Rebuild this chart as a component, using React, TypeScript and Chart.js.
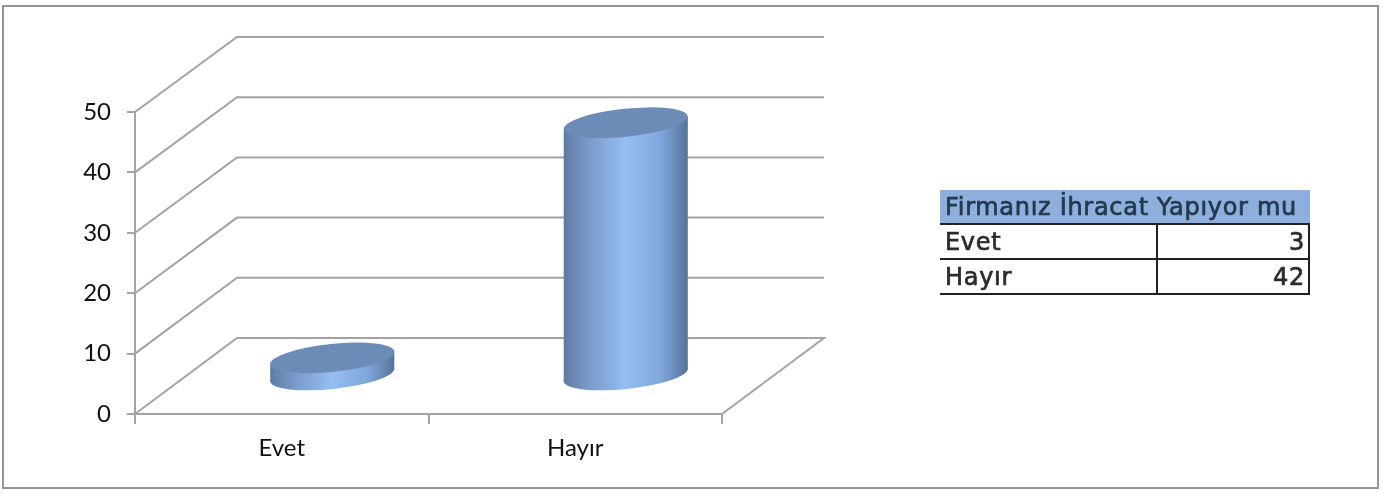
import React, { useEffect, useRef } from "react";
import { Chart, registerables } from "chart.js";

Chart.register(...registerables);

const categories = ["Evet", "Hayır"];
const values = [3, 42];
const tickLabels = [0, 10, 20, 30, 40, 50];
const tableTitle = "Firmanız İhracat Yapıyor mu";

const GRID = "#a3a3a3";
const DEPTH_X = 102;
const DEPTH_Y_FLOOR = 76;
const DEPTH_Y_TOP = 75;

function depthAt(frac: number) {
  return DEPTH_Y_FLOOR + (DEPTH_Y_TOP - DEPTH_Y_FLOOR) * frac;
}

const wall3d = {
  id: "wall3d",
  beforeDatasetsDraw(chart: any) {
    const { ctx, chartArea: a, scales } = chart;
    ctx.save();
    ctx.strokeStyle = GRID;
    ctx.lineWidth = 2;
    const y = scales.y;
    tickLabels.forEach((t) => {
      const py = y.getPixelForValue(t);
      const dy = depthAt(t / 50);
      ctx.beginPath();
      ctx.moveTo(a.left, py);
      ctx.lineTo(a.left + DEPTH_X, py - dy);
      ctx.lineTo(a.right + DEPTH_X, py - dy);
      if (t === 0) ctx.lineTo(a.right, py);
      ctx.stroke();
    });
    ctx.restore();
  },
};

function cylinderTop(ctx: any, cx: number, cy: number, rx: number, ry: number, rot: number) {
  ctx.beginPath();
  ctx.ellipse(cx, cy, rx, ry, rot, 0, Math.PI * 2);
}

const cylinders = {
  id: "cylinders",
  afterDatasetsDraw(chart: any) {
    const { ctx } = chart;
    const meta = chart.getDatasetMeta(0);
    meta.data.forEach((bar: any, i: number) => {
      const rx = bar.width / 2;
      const ry = 14;
      const rot = (-6 * Math.PI) / 180;
      const cx = bar.x + DEPTH_X / 2 - 0.5;
      const topY = bar.y - depthAt(values[i] / 50) / 2;
      const baseY = bar.base - depthAt(0) / 2;
      const t = Math.atan2(-ry * Math.sin(rot), rx * Math.cos(rot));
      const ex = rx * Math.cos(t) * Math.cos(rot) - ry * Math.sin(t) * Math.sin(rot);
      const ey = rx * Math.cos(t) * Math.sin(rot) + ry * Math.sin(t) * Math.cos(rot);
      const g = ctx.createLinearGradient(cx - ex, 0, cx + ex, 0);
      g.addColorStop(0, "#5f7ba3");
      g.addColorStop(0.2, "#7a9aca");
      g.addColorStop(0.5, "#95bef2");
      g.addColorStop(0.78, "#80a8dd");
      g.addColorStop(1, "#567399");
      ctx.save();
      ctx.fillStyle = g;
      cylinderTop(ctx, cx, baseY, rx, ry, rot);
      ctx.fill();
      ctx.beginPath();
      ctx.moveTo(cx - ex, topY - ey);
      ctx.lineTo(cx - ex, baseY - ey);
      ctx.lineTo(cx + ex, baseY + ey);
      ctx.lineTo(cx + ex, topY + ey);
      ctx.closePath();
      ctx.fill();
      ctx.fillStyle = "#6c8bb6";
      cylinderTop(ctx, cx, topY, rx, ry, rot);
      ctx.fill();
      ctx.restore();
    });
  },
};

const cellBase: React.CSSProperties = {
  position: "absolute",
  boxSizing: "border-box",
  fontFamily: "'DejaVu Sans', sans-serif",
  fontWeight: 400,
  fontSize: 24,
  letterSpacing: 0.7,
  WebkitTextStroke: "0.7px currentColor",
  lineHeight: "34px",
  color: "#2b2b2b",
  whiteSpace: "nowrap",
};

export default function App() {
  const ref = useRef<HTMLCanvasElement>(null);
  useEffect(() => {
    const chart = new Chart(ref.current!, {
      type: "bar",
      data: {
        labels: categories,
        datasets: [
          {
            data: values,
            backgroundColor: "rgba(0,0,0,0)",
            categoryPercentage: 1,
            barPercentage: 0.425,
          },
        ],
      },
      plugins: [wall3d, cylinders],
      options: {
        animation: false,
        responsive: false,
        layout: { padding: { left: 0, right: 662, top: 112, bottom: 27 } },
        plugins: { legend: { display: false }, tooltip: { enabled: false } },
        scales: {
          x: {
            grid: { drawOnChartArea: false, color: GRID, tickLength: 10, offset: true, lineWidth: 2 },
            border: { color: GRID, width: 2 },
            ticks: { color: "#111", font: { family: "Lato", size: 24 }, padding: 10, maxRotation: 0 },
            afterFit: (s: any) => {
              s.height = 52;
            },
          },
          y: {
            min: 0,
            max: 50,
            grid: { drawOnChartArea: false, color: GRID, tickLength: 8, lineWidth: 2 },
            border: { color: GRID, width: 2 },
            ticks: {
              stepSize: 10,
              color: "#111",
              font: { family: "Lato", size: 24 },
              padding: 16,
            },
            afterFit: (s: any) => {
              s.width = 135;
            },
          },
        },
      },
    } as any);
    return () => chart.destroy();
  }, []);

  return (
    <div style={{ position: "fixed", left: 0, top: 0, width: 1384, height: 493, background: "#fff", overflow: "hidden" }}>
      <canvas ref={ref} width={1384} height={493} style={{ display: "block", position: "absolute", left: 0, top: 0, filter: "blur(0.4px)" }} />
      <div style={{ position: "absolute", left: 2, top: 5, width: 1377, height: 484, border: "2px solid #949494", boxSizing: "border-box", pointerEvents: "none" }} />
      <div style={{ position: "absolute", left: 940, top: 190, width: 370, height: 105, filter: "blur(0.6px)" }}>
        <div style={{ ...cellBase, left: 0, top: 0, width: 370, height: 34, background: "#8eaedb", paddingLeft: 5, color: "#24384f" }}>{tableTitle}</div>
        <div style={{ position: "absolute", left: 0, top: 33, width: 369, height: 2, background: "#222" }} />
        <div style={{ position: "absolute", left: 0, top: 68, width: 369, height: 2, background: "#222" }} />
        <div style={{ position: "absolute", left: 0, top: 103, width: 369, height: 2, background: "#222" }} />
        <div style={{ position: "absolute", left: 216, top: 33, width: 2, height: 72, background: "#222" }} />
        <div style={{ position: "absolute", left: 368, top: 33, width: 2, height: 72, background: "#222" }} />
        {categories.map((c, i) => (
          <React.Fragment key={c}>
            <div style={{ ...cellBase, left: 5, top: 35 + i * 35 }}>{c}</div>
            <div style={{ ...cellBase, right: 5, top: 35 + i * 35 }}>{values[i]}</div>
          </React.Fragment>
        ))}
      </div>
    </div>
  );
}
